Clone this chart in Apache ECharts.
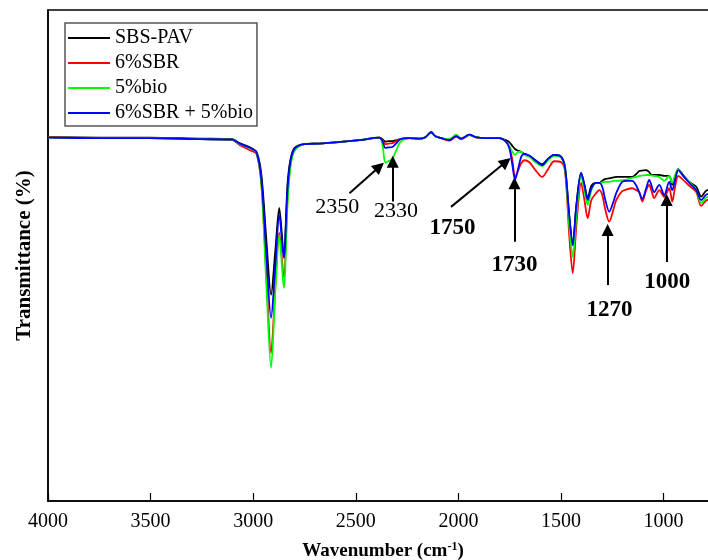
<!DOCTYPE html>
<html>
<head>
    <meta charset="UTF-8"/>
    <script src="https://cdn.jsdelivr.net/npm/echarts@6/dist/echarts.min.js"></script>
    <style>
        html, body { margin: 0; padding: 0; background: #fff; }
        #main { width: 708px; height: 560px; }
    </style>
</head>
<body>
<div id="main"></div>
<script type="text/javascript">
    // wavenumber (cm-1), shared by all four spectra
    var wavenumbers = [4000, 3750, 3506, 3262, 3101, 3067, 3019, 2984, 2960, 2936,
        2913, 2892, 2873, 2851, 2833, 2819, 2799, 2751, 2678, 2483,
        2385, 2370, 2356, 2341, 2322, 2302, 2283, 2239, 2190, 2161,
        2133, 2112, 2083, 2044, 2011, 1986, 1947, 1914, 1874, 1800,
        1771, 1752, 1737, 1724, 1708, 1694, 1679, 1654, 1625, 1592,
        1563, 1533, 1499, 1480, 1460, 1443, 1425, 1402, 1386, 1370,
        1352, 1329, 1313, 1299, 1284, 1265, 1245, 1231, 1202, 1177,
        1153, 1133, 1119, 1104, 1085, 1070, 1060, 1046, 1021, 997,
        973, 958, 944, 929, 905, 875, 841, 817, 787, 758];

    var sbsPav = [74.1, 74.0, 74.0, 73.8, 73.7, 72.9, 72.1, 71.1, 66.4, 53.2,
        42.0, 51.1, 59.7, 50.1, 64.4, 69.4, 71.9, 72.7, 72.8, 73.5,
        74.0, 73.7, 73.2, 73.3, 73.3, 73.5, 73.7, 73.9, 73.8, 74.1,
        75.1, 74.3, 73.9, 73.5, 74.3, 73.8, 74.6, 74.1, 73.9, 73.9,
        73.5, 73.1, 72.3, 71.7, 71.3, 71.1, 70.7, 70.3, 69.4, 68.6,
        69.7, 70.5, 70.1, 67.8, 58.2, 52.1, 60.3, 66.8, 64.4, 61.7,
        64.2, 64.8, 64.8, 65.2, 65.6, 65.7, 65.9, 66.0, 66.0, 66.0,
        66.0, 66.6, 67.2, 67.3, 67.4, 67.0, 66.4, 66.4, 66.4, 66.2,
        66.2, 64.4, 65.8, 67.6, 66.4, 65.0, 64.0, 62.0, 63.3, 62.9];

    var sbr6 = [74.1, 73.9, 73.9, 73.7, 73.5, 72.5, 71.5, 70.7, 64.4, 46.0,
        30.1, 44.0, 54.6, 45.6, 61.3, 68.4, 71.5, 72.7, 72.8, 73.5,
        74.0, 73.5, 72.7, 72.8, 72.9, 73.3, 73.7, 73.9, 73.8, 74.1,
        75.1, 74.3, 73.9, 73.4, 74.2, 73.7, 74.5, 74.0, 73.9, 73.9,
        73.3, 72.1, 69.4, 66.0, 67.4, 68.8, 69.4, 69.0, 67.4, 66.0,
        67.6, 69.2, 69.0, 67.0, 54.2, 46.4, 56.2, 64.8, 61.3, 57.6,
        61.3, 62.7, 63.3, 62.3, 59.3, 56.9, 59.3, 61.3, 63.1, 63.5,
        63.7, 63.3, 62.9, 61.0, 63.3, 64.4, 63.3, 61.7, 63.3, 61.9,
        63.7, 61.0, 64.0, 66.2, 65.4, 64.2, 62.9, 60.1, 61.3, 60.9];

    var bio5 = [74.0, 73.9, 73.9, 73.7, 73.6, 72.7, 71.9, 70.9, 64.4, 44.0,
        27.1, 43.0, 54.2, 43.4, 60.3, 67.8, 71.3, 72.7, 72.8, 73.5,
        74.0, 72.5, 68.9, 69.2, 69.7, 71.5, 73.1, 73.9, 73.8, 74.1,
        75.0, 74.3, 73.9, 73.7, 74.6, 73.8, 74.5, 74.1, 73.9, 73.9,
        73.3, 72.3, 71.1, 70.5, 71.1, 71.1, 70.5, 70.1, 69.0, 68.2,
        69.4, 70.3, 69.9, 67.4, 56.2, 49.7, 58.2, 66.4, 63.3, 60.3,
        63.3, 64.8, 64.8, 64.9, 65.0, 65.0, 65.2, 65.2, 65.3, 65.5,
        65.8, 66.0, 66.2, 66.3, 66.4, 66.4, 66.3, 66.2, 66.0, 65.2,
        66.2, 64.8, 66.4, 67.6, 66.2, 65.0, 63.3, 60.7, 61.9, 61.5];

    var sbr6Bio5 = [74.0, 73.9, 73.9, 73.7, 73.6, 72.8, 72.0, 71.0, 65.4, 50.1,
        37.3, 48.1, 58.2, 49.5, 63.3, 69.0, 71.7, 72.7, 72.8, 73.5,
        74.0, 73.3, 71.9, 72.0, 72.1, 72.9, 73.7, 73.9, 73.8, 74.1,
        75.1, 74.3, 73.9, 73.5, 74.3, 73.8, 74.6, 74.1, 73.9, 73.9,
        73.3, 71.9, 68.4, 65.4, 67.8, 70.1, 70.7, 70.3, 69.4, 68.4,
        69.7, 70.5, 70.1, 67.8, 58.2, 52.1, 60.3, 66.8, 64.4, 61.3,
        63.7, 64.8, 64.8, 64.0, 61.3, 58.9, 60.9, 62.7, 65.0, 65.2,
        65.2, 64.2, 62.9, 61.5, 63.7, 65.4, 64.4, 62.9, 64.4, 62.3,
        65.0, 63.3, 65.4, 67.4, 66.2, 64.8, 63.3, 61.3, 62.5, 62.1];

    var seriesNames = ['SBS-PAV', '6%SBR', '5%bio', '6%SBR + 5%bio'];
    var seriesColors = ['#000000', '#ff0000', '#00ff00', '#0000ff'];
    var xTicks = [4000, 3500, 3000, 2500, 2000, 1500, 1000];

    // peak annotations: text, label position, arrow tail, arrow head (wavenumber, transmittance)
    var peakLabels = ['2350', '2330', '1750', '1730', '1270', '1000'];
    var peakLabelPos = [[2590, 59.9], [2304, 59.1], [2029, 55.6], [1727, 48.1], [1264, 38.9], [982, 44.6]];
    var peakLabelBold = [false, false, true, true, true, true];
    var arrowFrom = [[2531, 62.7], [2320, 61.0], [2036, 59.9], [1727, 52.8], [1273, 44.0], [985, 48.7]];
    var arrowTo = [[2385, 68.1], [2320, 69.1], [1768, 69.1], [1727, 64.7], [1273, 55.2], [985, 61.3]];

    var font = '"Liberation Serif", "Times New Roman", serif';

    function pairs(ys) {
        var out = [];
        for (var i = 0; i < wavenumbers.length; i++) {
            out.push([wavenumbers[i], ys[i]]);
        }
        return out;
    }

    var allY = [sbsPav, sbr6, bio5, sbr6Bio5];
    var series = [];
    for (var s = 0; s < 4; s++) {
        series.push({
            name: seriesNames[s],
            type: 'line',
            data: pairs(allY[s]),
            smooth: 0.3,
            symbol: 'none',
            lineStyle: {color: seriesColors[s], width: 1.8},
            itemStyle: {color: seriesColors[s]},
            animation: false,
            z: 2 + s
        });
    }

    var arrowData = [];
    for (var a = 0; a < arrowFrom.length; a++) {
        arrowData.push([{coord: arrowFrom[a]}, {coord: arrowTo[a]}]);
    }
    series[3].markLine = {
        silent: true,
        animation: false,
        symbol: ['none', 'triangle'],
        symbolSize: 12,
        lineStyle: {color: '#000', width: 2, type: 'solid'},
        itemStyle: {color: '#000'},
        label: {show: false},
        emphasis: {disabled: true},
        data: arrowData
    };

    var labelData = [];
    for (var k = 0; k < peakLabels.length; k++) {
        labelData.push({
            value: peakLabelPos[k],
            label: {
                show: true,
                position: 'inside',
                formatter: peakLabels[k],
                fontFamily: font,
                fontSize: peakLabelBold[k] ? 23 : 22,
                fontWeight: peakLabelBold[k] ? 'bold' : 'normal',
                color: '#000',
                opacity: 1,
                textBorderWidth: 0
            }
        });
    }
    series.push({
        name: 'peaks',
        type: 'scatter',
        symbolSize: 0,
        itemStyle: {color: '#000', opacity: 1},
        data: labelData,
        silent: true,
        animation: false,
        z: 10
    });

    var myChart = echarts.init(document.getElementById('main'));
    var option = {
        backgroundColor: '#fff',
        animation: false,
        legend: {
            data: seriesNames,
            orient: 'vertical',
            left: 65,
            top: 23,
            icon: 'rect',
            itemWidth: 42,
            itemHeight: 2,
            itemGap: 5,
            padding: [5, 4, 3, 3],
            borderColor: '#555',
            borderWidth: 1.5,
            textStyle: {fontFamily: font, fontSize: 20, color: '#000'}
        },
        grid: {
            left: 48,
            top: 10,
            width: 670,
            height: 491,
            outerBoundsMode: 'none',
            containLabel: false,
            show: true,
            borderColor: '#000',
            borderWidth: 1.5
        },
        xAxis: {
            type: 'value',
            inverse: true,
            min: 735,
            max: 4000,
            name: 'Wavenumber (cm{sup|-1})',
            nameLocation: 'middle',
            nameGap: 40,
            nameTextStyle: {
                fontFamily: font,
                fontSize: 19,
                fontWeight: 'bold',
                color: '#000',
                rich: {
                    sup: {fontFamily: font, fontSize: 12, fontWeight: 'bold', color: '#000', verticalAlign: 'top', padding: [0, 0, 8, 0]}
                }
            },
            axisLine: {show: true, lineStyle: {color: '#000', width: 1.5}},
            axisTick: {show: true, inside: true, length: 8, customValues: xTicks, lineStyle: {color: '#000', width: 1.2}},
            axisLabel: {
                fontFamily: font, fontSize: 20, color: '#000', margin: 11,
                customValues: xTicks,
                formatter: function (v) { return String(v); }
            },
            splitLine: {show: false}
        },
        yAxis: {
            type: 'value',
            min: 0,
            max: 100,
            name: 'Transmittance (%)',
            nameLocation: 'middle',
            nameRotate: 90,
            nameGap: 13,
            nameTextStyle: {fontFamily: font, fontSize: 21, fontWeight: 'bold', color: '#000'},
            axisLine: {show: true, lineStyle: {color: '#000', width: 1.5}},
            axisTick: {show: false},
            axisLabel: {show: false},
            splitLine: {show: false}
        },
        series: series
    };
    myChart.setOption(option);
</script>
</body>
</html>
